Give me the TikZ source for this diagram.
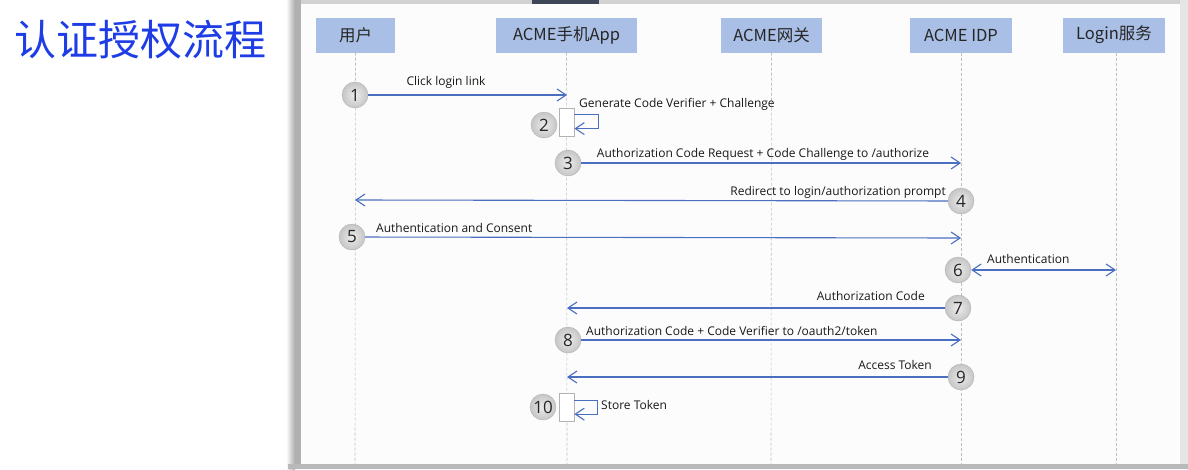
\documentclass[tikz,border=0pt]{standalone}
\usepackage{fontspec}
\setmainfont{Open Sans}
\newfontfamily\cjk{Noto Sans CJK SC}
\usetikzlibrary{arrows.meta,calc}
\definecolor{hdrblue}{HTML}{A9BFE5}
\definecolor{msgblue}{HTML}{4A6FC0}
\definecolor{titleblue}{HTML}{1E3DE6}
\definecolor{tabdark}{HTML}{3D4757}
\begin{document}
\begin{tikzpicture}[x=1pt,y=-1pt,
 hdr/.style={fill=hdrblue, minimum height=35pt, inner sep=0pt, font=\cjk\fontsize{16.5}{16.5}\selectfont, text=black!85},
 life/.style={draw=gray!50, line width=0.6pt, dash pattern=on 3pt off 2pt},
 num/.style={circle, draw=gray!60, inner color=gray!15, outer color=gray!45, minimum size=26pt, inner sep=0pt, font=\fontsize{17}{17}\selectfont, text=black!85},
 barb/.tip={Straight Barb[length=9pt,width=12pt]},
 msg/.style={draw=msgblue, line width=1.1pt, -barb},
 lbl/.style={font=\fontsize{12}{13}\selectfont, inner sep=0pt, text=black!90},
 act/.style={draw=gray!60, fill=white, line width=0.8pt, minimum width=15pt, minimum height=28pt, inner sep=0pt}
]
\useasboundingbox (0,0) rectangle (1188,469);
\fill[white] (0,0) rectangle (1188,469);
% slide panel
\fill[gray!2] (300,4) rectangle (1180,464);
\fill[gray!35] (296,0) rectangle (1188,4);
\fill[tabdark] (532,0) rectangle (599,4);
\fill[gray!20] (1180,0) rectangle (1188,469);
\shade[left color=white, right color=gray!65] (286,0) rectangle (295,469);
\fill[gray!62] (295,0) rectangle (301,469);
\fill[gray!55] (288,464) rectangle (1188,469);

% title
\node[font=\cjk\fontsize{42}{42}\selectfont, text=titleblue, anchor=west, inner sep=0pt] (title) at (14,40) {认证授权流程};

% headers
\node[hdr, minimum width=79pt] (u) at (355.5,35) {用户};
\node[hdr, minimum width=141pt] (app) at (566.5,35) {ACME手机App};
\node[hdr, minimum width=101pt] (gw) at (771.5,35) {ACME网关};
\node[hdr, minimum width=102pt] (idp) at (961,35) {ACME IDP};
\node[hdr, minimum width=102pt] (login) at (1114,35) {Login服务};

% lifelines
\coordinate (uend) at (355,464);
\coordinate (append) at (567,464);
\coordinate (gwend) at (771,464);
\coordinate (idpend) at (961,464);
\coordinate (loginend) at (1116,464);
\draw[life] (u.south) -- (uend);
\draw[life] (app.south) -- (append);
\draw[life] (gw.south) -- (gwend);
\draw[life] (idp.south) -- (idpend);
\draw[life] (login.south -| loginend) -- (loginend);

% 1
\coordinate (m1) at (567,95);
\node[num] (c1) at (355,95) {1};
\draw[msg] (c1) -- (m1);
\node[lbl] (l1) at (446,82) {Click login link};

% 2
\node[act] (a2) at (566.5,122) {};
\node[num] (c2) at (544,125) {2};
\draw[msg] ($(a2.north east)+(0,7)$) -- ++(24,0) -- ++(0,14) -- ++(-24,0);
\node[lbl, anchor=west] (l2) at (579,104) {Generate Code Verifier + Challenge};

% 3
\coordinate (m3) at (961,163);
\node[num] (c3) at (568,163) {3};
\draw[msg] (c3) -- (m3);
\node[lbl] (l3) at (763,154) {Authorization Code Request + Code Challenge to /authorize};

% 4
\coordinate (m4) at (355,200);
\node[num] (c4) at (961,201) {4};
\draw[msg] (c4) -- (m4);
\node[lbl, anchor=east] (l4) at (946,192) {Redirect to login/authorization prompt};

% 5
\coordinate (m5) at (961,238);
\node[num] (c5) at (352,237) {5};
\draw[msg] (c5) -- (m5);
\node[lbl, anchor=west] (l5) at (376,228) {Authentication and Consent};

% 6
\coordinate (m6) at (1116,270);
\node[num] (c6) at (958,270) {6};
\draw[msg, barb-barb] (c6) -- (m6);
\node[lbl, anchor=west] (l6) at (987,259) {Authentication};

% 7
\coordinate (m7) at (567,308);
\node[num] (c7) at (958,308) {7};
\draw[msg] (c7) -- (m7);
\node[lbl, anchor=east] (l7) at (925,296) {Authorization Code};

% 8
\coordinate (m8) at (961,340);
\node[num] (c8) at (568,340) {8};
\draw[msg] (c8) -- (m8);
\node[lbl, anchor=west] (l8) at (586,331) {Authorization Code + Code Verifier to /oauth2/token};

% 9
\coordinate (m9) at (567,377);
\node[num] (c9) at (961,377) {9};
\draw[msg] (c9) -- (m9);
\node[lbl, anchor=east] (l9) at (932,365) {Access Token};

% 10
\node[act] (a10) at (566.5,407.5) {};
\node[num] (c10) at (543,407) {10};
\draw[msg] ($(a10.north east)+(0,7)$) -- ++(23,0) -- ++(0,14) -- ++(-23,0);
\node[lbl, anchor=west] (l10) at (601,405) {Store Token};
\end{tikzpicture}
\end{document}
